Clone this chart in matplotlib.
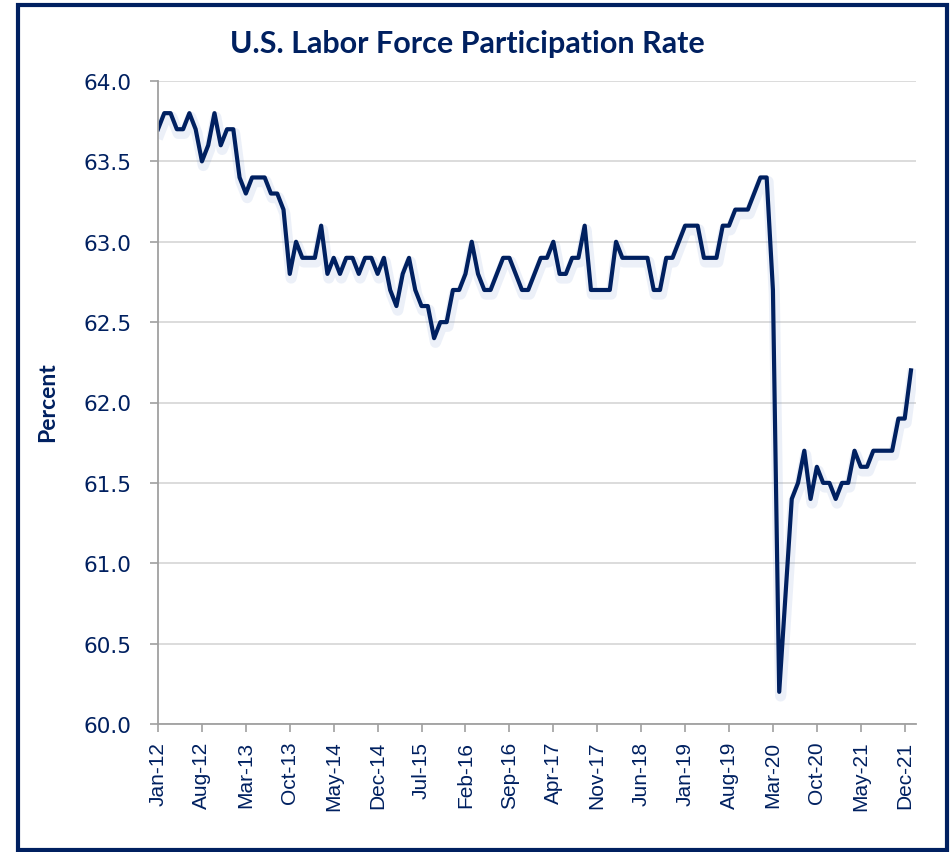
import numpy as np
import pandas as pd
import matplotlib
matplotlib.use("Agg")
import matplotlib.pyplot as plt
import matplotlib.patheffects as pe
from matplotlib.patches import Rectangle

# monthly labor force participation rate, Jan-12 .. Jan-22
rate_2012 = [63.7, 63.8, 63.8, 63.7, 63.7, 63.8, 63.7, 63.5, 63.6, 63.8, 63.6, 63.7]
rate_2013 = [63.7, 63.4, 63.3, 63.4, 63.4, 63.4, 63.3, 63.3, 63.2, 62.8, 63.0, 62.9]
rate_2014 = [62.9, 62.9, 63.1, 62.8, 62.9, 62.8, 62.9, 62.9, 62.8, 62.9, 62.9, 62.8]
rate_2015 = [62.9, 62.7, 62.6, 62.8, 62.9, 62.7, 62.6, 62.6, 62.4, 62.5, 62.5, 62.7]
rate_2016 = [62.7, 62.8, 63.0, 62.8, 62.7, 62.7, 62.8, 62.9, 62.9, 62.8, 62.7, 62.7]
rate_2017 = [62.8, 62.9, 62.9, 63.0, 62.8, 62.8, 62.9, 62.9, 63.1, 62.7, 62.7, 62.7]
rate_2018 = [62.7, 63.0, 62.9, 62.9, 62.9, 62.9, 62.9, 62.7, 62.7, 62.9, 62.9, 63.0]
rate_2019 = [63.1, 63.1, 63.1, 62.9, 62.9, 62.9, 63.1, 63.1, 63.2, 63.2, 63.2, 63.3]
rate_2020 = [63.4, 63.4, 62.7, 60.2, 60.8, 61.4, 61.5, 61.7, 61.4, 61.6, 61.5, 61.5]
rate_2021 = [61.4, 61.5, 61.5, 61.7, 61.6, 61.6, 61.7, 61.7, 61.7, 61.7, 61.9, 61.9]
rate_2022 = [62.2]

rate = (rate_2012 + rate_2013 + rate_2014 + rate_2015 + rate_2016 + rate_2017
        + rate_2018 + rate_2019 + rate_2020 + rate_2021 + rate_2022)
months = pd.date_range("2012-01-01", periods=len(rate), freq="MS")
x = np.arange(len(rate))

# label every 7th month, Jan-12 .. Dec-21
tick_step = 7
tick_pos = x[::tick_step][:18]
tick_labels = [d.strftime("%b-%y") for d in months[tick_pos]]

navy = "#002060"

fig = plt.figure(figsize=(9.51, 8.53), dpi=100)
ax = fig.add_axes([158 / 951, 1 - 725 / 853, (916 - 158) / 951, (725 - 82) / 853])

ax.plot(x, rate, color=navy, lw=3, solid_joinstyle="round",
        path_effects=[pe.SimpleLineShadow(offset=(1, -3), shadow_color="#6f8fcf",
                                          alpha=0.13, linewidth=8),
                      pe.Normal()])

ax.set_xlim(0, 120.8)
ax.set_ylim(60, 64)
ax.set_yticks(np.arange(60, 64.01, 0.5))
ax.set_yticklabels([f"{v:.1f}" for v in np.arange(60, 64.01, 0.5)],
                   fontsize=15.5, color=navy, family="DejaVu Sans")
ax.set_xticks(tick_pos)
ax.set_xticklabels(tick_labels, rotation=90, fontsize=15, color=navy,
                   family="Liberation Sans")
ax.tick_params(axis="both", length=6, width=1.2, color="#a0a0a0")
ax.tick_params(axis="y", pad=13)
ax.tick_params(axis="x", pad=6)

ax.grid(axis="y", color="#d9d9d9", lw=1.3)
ax.set_axisbelow(True)
for s in ["top", "right"]:
    ax.spines[s].set_visible(False)
for s in ["left", "bottom"]:
    ax.spines[s].set_color("#a0a0a0")
    ax.spines[s].set_linewidth(1.3)

fig.text(467 / 951, 1 - 44 / 853, "U.S. Labor Force Participation Rate",
         ha="center", va="center", fontsize=22, fontweight="bold",
         color=navy, family="Lato")
fig.text(48 / 951, 1 - 402 / 853, "Percent", rotation=90, ha="center", va="center",
         fontsize=16.5, fontweight="bold", color=navy, family="Lato")

# outer frame
fig.patches.append(Rectangle((18 / 951, 2 / 853), 929 / 951, 845 / 853,
                             transform=fig.transFigure, fill=False,
                             edgecolor=navy, lw=3))

fig.savefig("out.png", dpi=100)
